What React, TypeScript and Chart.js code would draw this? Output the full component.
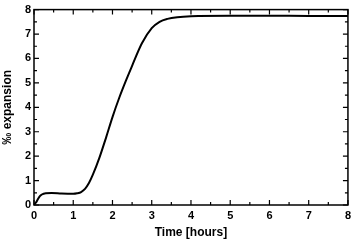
import React, { useEffect, useRef } from "react";
import { Chart, registerables } from "chart.js";

Chart.register(...registerables);

// Time in hours
const timeHours = [0, 0.05, 0.1, 0.15, 0.2, 0.3, 0.45, 0.7, 1.0, 1.1, 1.2, 1.3, 1.4, 1.5, 1.67, 1.84, 2.0, 2.17, 2.34, 2.5, 2.75, 3.0, 3.2, 3.4, 3.65, 4.0, 5.0, 6.0, 7.0, 8.0];
// ‰ expansion
const expansion = [0, 0.1, 0.24, 0.36, 0.43, 0.48, 0.49, 0.47, 0.46, 0.48, 0.53, 0.66, 0.9, 1.24, 1.95, 2.78, 3.6, 4.38, 5.08, 5.7, 6.62, 7.24, 7.5, 7.62, 7.69, 7.73, 7.75, 7.75, 7.74, 7.74];

const xTickValues = [0, 0.5, 1, 1.5, 2, 2.5, 3, 3.5, 4, 4.5, 5, 5.5, 6, 6.5, 7, 7.5, 8];
const yTickValues = [0, 0.5, 1, 1.5, 2, 2.5, 3, 3.5, 4, 4.5, 5, 5.5, 6, 6.5, 7, 7.5, 8];

const xTitle = "Time [hours]";
const yTitle = "‰ expansion";

const framePlugin = {
  id: "frameTicks",
  afterDraw(chart: any) {
    const { ctx, chartArea } = chart;
    const xs = chart.scales.x;
    const ys = chart.scales.y;
    const { left, right, top, bottom } = chartArea;
    ctx.save();
    ctx.strokeStyle = "#000";
    ctx.lineWidth = 1.5;
    ctx.strokeRect(left, top, right - left, bottom - top);
    ctx.lineWidth = 1.2;
    ctx.beginPath();
    xTickValues.forEach((v) => {
      const px = xs.getPixelForValue(v);
      const len = Number.isInteger(v) ? 5 : 3;
      ctx.moveTo(px, bottom);
      ctx.lineTo(px, bottom - len);
      ctx.moveTo(px, top);
      ctx.lineTo(px, top + len);
    });
    yTickValues.forEach((v) => {
      const py = ys.getPixelForValue(v);
      const len = Number.isInteger(v) ? 5 : 3;
      ctx.moveTo(left, py);
      ctx.lineTo(left + len, py);
      ctx.moveTo(right, py);
      ctx.lineTo(right - len, py);
    });
    ctx.stroke();
    ctx.restore();
  },
};

export default function App() {
  const ref = useRef<HTMLCanvasElement | null>(null);
  useEffect(() => {
    if (!ref.current) return;
    const tickFont = { family: "'Liberation Sans', Arial, sans-serif", size: 11, weight: "bold" as const };
    const titleFont = { family: "'Liberation Sans', Arial, sans-serif", size: 12, weight: "bold" as const };
    const chart = new Chart(ref.current, {
      type: "line",
      data: {
        datasets: [
          {
            data: timeHours.map((t, i) => ({ x: t, y: expansion[i] })),
            borderColor: "#000",
            borderWidth: 2,
            pointRadius: 0,
            cubicInterpolationMode: "monotone",
            fill: false,
          },
        ],
      },
      options: {
        animation: false,
        responsive: false,
        devicePixelRatio: 1,
        layout: { padding: { top: 5, right: 4, left: 0, bottom: 0 } },
        plugins: { legend: { display: false }, tooltip: { enabled: false } },
        scales: {
          x: {
            type: "linear",
            min: 0,
            max: 8,
            grid: { display: false, drawTicks: false },
            border: { display: false },
            ticks: { stepSize: 1, color: "#000", font: tickFont, padding: 4, maxRotation: 0 },
            title: { display: true, text: xTitle, color: "#000", font: titleFont, padding: { top: 0, bottom: 1 } },
            afterFit(scale: any) {
              scale.height = 36;
            },
          },
          y: {
            type: "linear",
            min: 0,
            max: 8,
            grid: { display: false, drawTicks: false },
            border: { display: false },
            ticks: { stepSize: 1, color: "#000", font: tickFont, padding: 3 },
            title: { display: true, text: yTitle, color: "#000", font: titleFont, padding: { top: 0, bottom: 0 } },
            afterFit(scale: any) {
              scale.width = 34;
            },
          },
        },
      },
      plugins: [framePlugin],
    });
    return () => chart.destroy();
  }, []);
  return (
    <div style={{ position: "fixed", left: 0, top: 0, width: 355, height: 241, background: "#fff" }}>
      <canvas ref={ref} width={355} height={241} style={{ display: "block" }} />
    </div>
  );
}
